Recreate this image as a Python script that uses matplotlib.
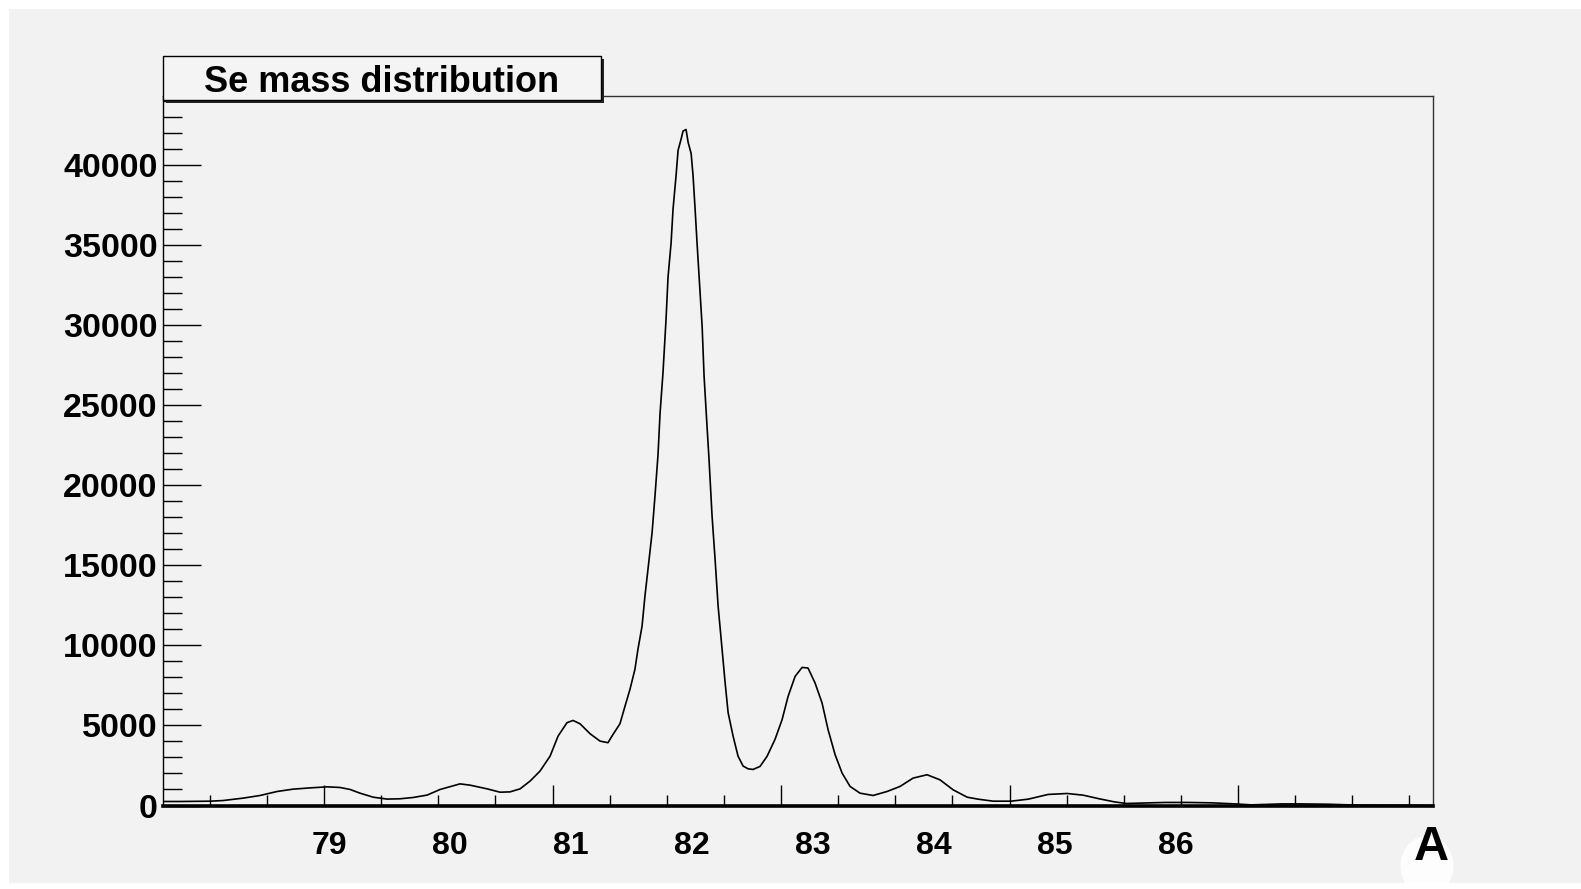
import numpy as np
import matplotlib
matplotlib.use("Agg")
import matplotlib.pyplot as plt
from matplotlib.patches import Rectangle, Ellipse
from matplotlib.ticker import FixedLocator, MultipleLocator, NullFormatter
import matplotlib.transforms as mtransforms

# ---- data ----
mass_A = [77.624, 77.766, 78.014, 78.121, 78.287, 78.427, 78.568, 78.700, 78.841, 78.982,
          79.089, 79.172, 79.254, 79.362, 79.478, 79.586, 79.693, 79.809, 79.916, 80.081,
          80.164, 80.305, 80.412, 80.495, 80.578, 80.660, 80.743, 80.826, 80.892, 80.966,
          81.016, 81.074, 81.157, 81.239, 81.305, 81.347, 81.404, 81.446, 81.487, 81.528,
          81.553, 81.587, 81.611, 81.636, 81.670, 81.694, 81.719, 81.736, 81.760, 81.785,
          81.802, 81.827, 81.843, 81.868, 81.885, 81.910, 81.926, 81.951, 81.968, 81.993,
          82.009, 82.026, 82.042, 82.059, 82.084, 82.100, 82.125, 82.141, 82.166, 82.191,
          82.216, 82.249, 82.274, 82.299, 82.340, 82.381, 82.423, 82.464, 82.505, 82.563,
          82.621, 82.687, 82.745, 82.795, 82.853, 82.911, 82.960, 83.018, 83.076, 83.126,
          83.184, 83.242, 83.308, 83.390, 83.498, 83.614, 83.721, 83.829, 83.945, 84.052,
          84.160, 84.276, 84.367, 84.491, 84.640, 84.781, 84.946, 85.103, 85.236, 85.368,
          85.492, 85.591, 85.914, 86.104, 86.303, 86.493, 86.625, 86.882, 87.039, 87.262,
          87.526, 88.130]
counts = [250, 250, 270, 310, 460, 625, 875, 1020, 1100, 1165,
          1125, 1000, 770, 520, 400, 420, 500, 650, 1000, 1350,
          1270, 1040, 830, 850, 1040, 1520, 2150, 3080, 4330, 5170,
          5310, 5100, 4480, 4020, 3920, 4440, 5100, 6200, 7250, 8500,
          9750, 11200, 13080, 14750, 17040, 19330, 21900, 24500, 27000, 30300,
          33000, 35100, 37200, 39300, 40900, 41600, 42100, 42200, 41400, 40700,
          39300, 37200, 35100, 33000, 29900, 26800, 23600, 21600, 18080, 15380,
          12460, 9750, 7670, 5790, 4330, 3080, 2460, 2290, 2250, 2440,
          3070, 4130, 5350, 6810, 8060, 8620, 8580, 7650, 6400, 4730,
          3170, 2020, 1190, 770, 625, 875, 1190, 1710, 1920, 1600,
          980, 520, 395, 270, 270, 395, 690, 750, 645, 420,
          230, 125, 190, 190, 165, 100, 40, 100, 100, 80,
          20, 0]
x_labels = [79, 80, 81, 82, 83, 84, 85, 86]
y_ticks = [0, 5000, 10000, 15000, 20000, 25000, 30000, 35000, 40000]
title = "Se mass distribution"
x_title = "A"

# ---- figure ----
W, H = 1581, 889
fig = plt.figure(figsize=(W / 100, H / 100), dpi=100, facecolor="white")
bg = "#f2f2f2"
fig.patches.append(Rectangle((9 / W, 1 - 883 / H), 1 - 9 / W, (883 - 9) / H,
                             transform=fig.transFigure, facecolor=bg, edgecolor="none", zorder=-5))

ax_l, ax_r, ax_t, ax_b = 163, 1433, 96.0, 805.5
ax = fig.add_axes([ax_l / W, 1 - ax_b / H, (ax_r - ax_l) / W, (ax_b - ax_t) / H])
ax.set_zorder(2)
ax.set_facecolor(bg)
ax.plot(mass_A, counts, color="black", lw=1.2, zorder=3)
ax.set_xlim(77.624, 88.130)
ax.set_ylim(0, 44290)

for s in ["left", "top", "right"]:
    ax.spines[s].set_linewidth(1.0)
ax.spines["top"].set_color("#333333")
ax.spines["right"].set_color("#333333")
ax.spines["left"].set_color("black")
ax.spines["bottom"].set_linewidth(2.6)
ax.spines["bottom"].set_color("black")

# y axis
ax.yaxis.set_major_locator(FixedLocator(y_ticks))
ax.yaxis.set_minor_locator(MultipleLocator(1000))
ax.set_yticklabels([str(v) for v in y_ticks], fontsize=24.5, fontweight="bold",
                   family="Liberation Sans")
ax.tick_params(axis="y", which="major", direction="in", length=27.4, width=1.0, pad=4)
ax.tick_params(axis="y", which="minor", direction="in", length=13.7, width=1.0)

# x axis ticks (independent of the label positions, as in the reference)
step = 1.890
first = 78.957
majors = [first + k * step for k in range(-1, 6)]
minors = [first + k * step / 4 for k in range(-8, 24)]
ax.xaxis.set_major_locator(FixedLocator(majors))
ax.xaxis.set_minor_locator(FixedLocator(minors))
ax.xaxis.set_major_formatter(NullFormatter())
ax.tick_params(axis="x", which="major", direction="in", length=14.8, width=1.0)
ax.tick_params(axis="x", which="minor", direction="in", length=7.7, width=1.0)

trans = mtransforms.blended_transform_factory(ax.transData, ax.transAxes)
for v in x_labels:
    ax.text(v, (ax_b - 846) / (ax_b - ax_t), str(v), transform=trans, ha="center", va="center",
            fontsize=23, fontweight="bold", family="Liberation Sans")

# watermark-like ellipse behind the axis title
fig.patches.append(Ellipse((1427 / W, 1 - 866 / H), 53 / W, 60 / H, transform=fig.transFigure,
                           facecolor="white", edgecolor="none", alpha=0.85, zorder=1))
fig.text(1431 / W, 1 - 848 / H, x_title, ha="center", va="center", fontsize=35,
         fontweight="bold", family="Liberation Sans", zorder=5)

# title box with shadow
bx0, bx1, by0, by1 = 163, 601, 56, 100
fig.patches.append(Rectangle(((bx0 + 2.5) / W, 1 - (by1 + 2.5) / H), (bx1 - bx0) / W, (by1 - by0) / H,
                             transform=fig.transFigure, facecolor="#222222", edgecolor="none", zorder=6))
fig.patches.append(Rectangle((bx0 / W, 1 - by1 / H), (bx1 - bx0) / W, (by1 - by0) / H,
                             transform=fig.transFigure, facecolor="#f4f4f4", edgecolor="black",
                             lw=1.0, zorder=7))
fig.text((bx0 + bx1) / 2 / W, 1 - 82 / H, title, ha="center", va="center", fontsize=26,
         fontweight="bold", family="Liberation Sans", zorder=8)

fig.savefig("out.png", dpi=100, facecolor="white")
